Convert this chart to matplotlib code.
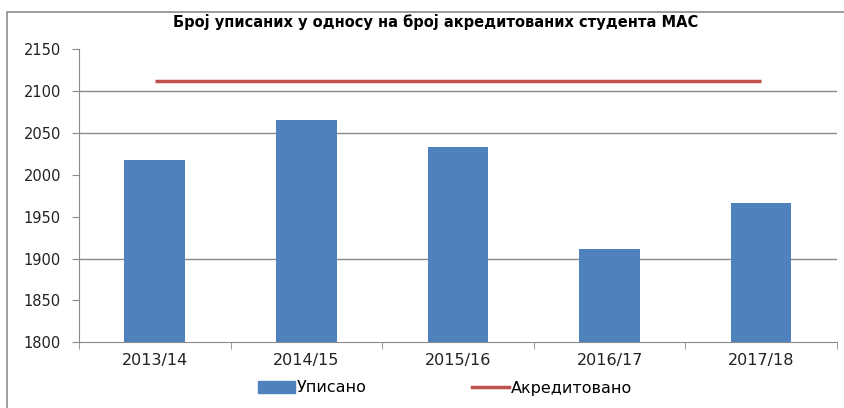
import matplotlib.pyplot as plt
from matplotlib.patches import Rectangle, Patch
from matplotlib.lines import Line2D

years = ['2013/14', '2014/15', '2015/16', '2016/17', '2017/18']
upisano = [2018, 2066, 2033, 1911, 1967]
akreditovano = [2112, 2112, 2112, 2112, 2112]
grid_values = [1900, 2050, 2100]

plt.rcParams['font.family'] = ['DejaVu Sans']

fig = plt.figure(figsize=(8.45, 4.08), dpi=100)
# outer chart border (only top/left visible in the crop)
fig.patches.append(Rectangle((7 / 845, -0.1), 1.2, (408 - 12) / 408 + 0.1,
                             transform=fig.transFigure, fill=False,
                             edgecolor='#8c8c8c', linewidth=1.2))

ax = fig.add_axes([0.0935, 0.161, 0.897, 0.7177])
x = range(len(years))
ax.bar(x, upisano, width=0.4, color='#4F81BD', zorder=3)
ax.plot(x, akreditovano, color='#C0504D', linewidth=2.5, zorder=4,
        solid_capstyle='butt')

for v in grid_values:
    ax.axhline(v, color='#8a8a8a', linewidth=1, zorder=1)

ax.set_ylim(1800, 2150)
ax.set_yticks(range(1800, 2151, 50))
ax.set_xlim(-0.5, 4.5)
ax.set_xticks(list(x))
ax.set_xticklabels(years)
ax.set_xticks([i - 0.5 for i in range(len(years) + 1)], minor=True)

for s in ['top', 'right']:
    ax.spines[s].set_visible(False)
for s in ['left', 'bottom']:
    ax.spines[s].set_color('#8a8a8a')
ax.tick_params(axis='y', colors='#8a8a8a', labelcolor='#222222', labelsize=10.5,
               length=5, pad=8)
ax.tick_params(axis='x', which='major', length=0, labelsize=11.5,
               labelcolor='#222222', pad=8)
ax.tick_params(axis='x', which='minor', length=5, color='#8a8a8a')

fig.text(0.515, 0.945, 'Број уписаних у односу на број акредитованих студента МАС',
         ha='center', va='center', fontsize=10.5, fontweight='bold')

handles = [Patch(color='#4F81BD'), Line2D([], [], color='#C0504D', linewidth=2.5)]
fig.legend(handles, ['Уписано', 'Акредитовано'], loc='center left',
           bbox_to_anchor=(258 / 845, 20 / 408), ncol=2, frameon=False,
           fontsize=11.5, handlelength=2.3, handleheight=0.75, columnspacing=6.6,
           handletextpad=0.12, borderpad=0, borderaxespad=0)

fig.savefig('out.png', dpi=100)
